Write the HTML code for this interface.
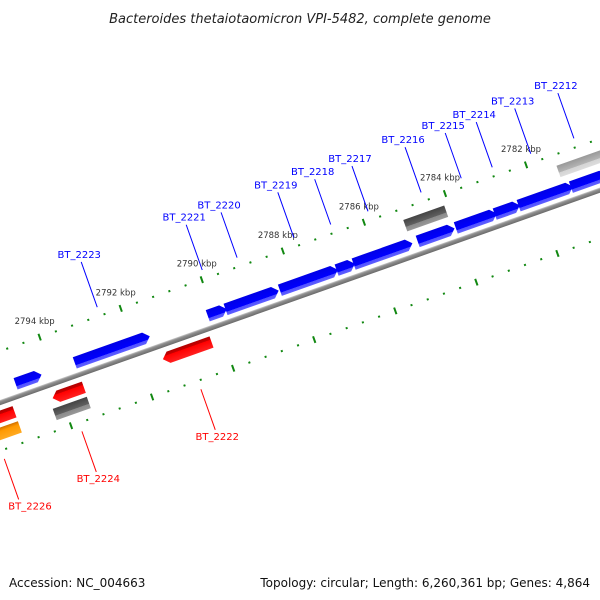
<!DOCTYPE html>
<html><head><meta charset="utf-8"><style>
html,body{margin:0;padding:0;background:#fff;width:600px;height:600px;overflow:hidden}
svg{display:block;font-family:"DejaVu Sans","Liberation Sans",sans-serif}
</style></head><body>
<svg id="map" width="600" height="600" viewBox="0 0 600 600">
<defs>
<linearGradient id="gF" x1="0" y1="0" x2="0" y2="1"><stop offset="0" stop-color="#0000e6"/><stop offset="0.7" stop-color="#0000ff"/><stop offset="0.72" stop-color="#5050ff"/><stop offset="1" stop-color="#6060ff"/></linearGradient>
<linearGradient id="gR" x1="0" y1="0" x2="0" y2="1"><stop offset="0" stop-color="#b00000"/><stop offset="0.28" stop-color="#c80000"/><stop offset="0.3" stop-color="#ff0000"/><stop offset="1" stop-color="#ff2020"/></linearGradient>
<linearGradient id="gD" x1="0" y1="0" x2="0" y2="1"><stop offset="0" stop-color="#444"/><stop offset="0.6" stop-color="#606060"/><stop offset="0.62" stop-color="#8a8a8a"/><stop offset="1" stop-color="#999"/></linearGradient>
<linearGradient id="gL" x1="0" y1="0" x2="0" y2="1"><stop offset="0" stop-color="#999"/><stop offset="0.6" stop-color="#b4b4b4"/><stop offset="0.62" stop-color="#d4d4d4"/><stop offset="1" stop-color="#ddd"/></linearGradient>
<linearGradient id="gO" x1="0" y1="0" x2="0" y2="1"><stop offset="0" stop-color="#d07000"/><stop offset="0.3" stop-color="#ff9900"/><stop offset="1" stop-color="#ffaa22"/></linearGradient>
<linearGradient id="gB" x1="0" y1="0" x2="0" y2="1"><stop offset="0" stop-color="#d0d0d0"/><stop offset="0.3" stop-color="#909090"/><stop offset="1" stop-color="#6a6a6a"/></linearGradient>
</defs>
<text x="300" y="23" text-anchor="middle" font-size="13" font-style="italic" fill="#222">Bacteroides thetaiotaomicron VPI-5482, complete genome</text>
<g id="rot" transform="translate(0,401) rotate(-19.5)"></g>
<g id="ann"></g>
<text x="9" y="587" font-size="12" fill="#111">Accession: NC_004663</text>
<text x="590" y="587" font-size="12" fill="#111" text-anchor="end">Topology: circular; Length: 6,260,361 bp; Genes: 4,864</text>
</svg>
<script>
// data (kbp)
const geneNames  = ["", "BT_2223","BT_2221","BT_2220","BT_2219","BT_2218","BT_2217","BT_2216","BT_2215","BT_2214","BT_2213","BT_2212","", "", "BT_2226","BT_2224","BT_2222","", ""];
const geneStarts = [2794.89,2793.43,2790.15,2789.71,2788.37,2786.97,2786.55,2784.97,2784.03,2783.07,2782.48,2781.19,2785.12,2781.34,2796.31,2794.19,2791.47,2796.46,2794.27];
const geneEnds   = [2794.25,2791.58,2789.68,2788.40,2786.94,2786.52,2785.10,2784.06,2783.02,2782.45,2781.14,2780.30,2784.11,2779.50,2795.13,2793.42,2790.27,2795.13,2793.43];
const geneStrand = [1,1,1,1,1,1,1,1,1,1,1,1,1,1,-1,-1,-1,-1,-1];
const geneLane   = [1,1,1,1,1,1,1,1,1,1,1,1,2,2,1,1,1,2,2];
const geneType   = ["cds","cds","cds","cds","cds","cds","cds","cds","cds","cds","cds","cds","dark","light","cds","cds","cds","orange","dark"];
const majorTicks = [2798,2796,2794,2792,2790,2788,2786,2784,2782,2780,2778];
const tickLabels = ["2798 kbp","2796 kbp","2794 kbp","2792 kbp","2790 kbp","2788 kbp","2786 kbp","2784 kbp","2782 kbp","2780 kbp","2778 kbp"];

const NS="http://www.w3.org/2000/svg";
const rot=document.getElementById('rot'), ann=document.getElementById('ann');
const U0=58.7, REF=2794, PX=43;
function uOf(k){return U0+(REF-k)*PX;}
const C=Math.cos(19.5*Math.PI/180), S=Math.sin(19.5*Math.PI/180);
function scr(u,v){return [u*C+v*S, 401-u*S+v*C];}
function mk(tag,attrs,parent){const e=document.createElementNS(NS,tag);for(const k in attrs)e.setAttribute(k,attrs[k]);parent.appendChild(e);return e;}

// backbone
let bb=mk('rect',{x:-100,y:-1,width:900,height:5,fill:'url(#gB)'},rot);



// ticks
const minorStep=0.4;
for(let ring of [-47,47]){
  for(let i=0;i<=50;i++){
    const k=2798-i*minorStep;
    const u=uOf(k);
    const isMajor=Math.abs(k/2-Math.round(k/2))<0.01;
    let t;
    if(isMajor){ t=mk('rect',{x:u-1,y:ring-3.5,width:2,height:7,fill:'#118811'},rot);
       }
    else { t=mk('rect',{x:u-1,y:ring-1,width:2,height:2,fill:'#118811'},rot);
       }
    
  }
}
majorTicks.forEach((k,i)=>{
  const [x,y]=scr(uOf(k),-47);
  if(x>575||x<10) return;
  const t=mk('text',{x:x-5,y:y-13,'text-anchor':'middle','font-size':8.5,fill:'#333'},ann);
  t.textContent=tickLabels[i];
  
  
});

// genes
const fills={cds1:'url(#gF)',cdsm:'url(#gR)',dark:'url(#gD)',light:'url(#gL)',orange:'url(#gO)'};
geneStarts.forEach((s,i)=>{
  const u1=Math.min(uOf(s),uOf(geneEnds[i])), u2=Math.max(uOf(s),uOf(geneEnds[i]));
  const st=geneStrand[i], ln=geneLane[i];
  let v0,v1;
  if(st>0){ if(ln===1){v0=-17;v1=-5;} else {v0=-36;v1=-24;} }
  else { if(ln===1){v0=9;v1=21;} else {v0=25;v1=37;} }
  const m=(v0+v1)/2, h=6;
  let pts;
  if(geneType[i]==='dark'||geneType[i]==='light') pts=[[u1,v0],[u2,v0],[u2,v1],[u1,v1]];
  else if(st>0) pts=[[u1,v0],[u2-h,v0],[u2,m],[u2-h,v1],[u1,v1]];
  else pts=[[u1+h,v0],[u2,v0],[u2,v1],[u1+h,v1],[u1,m]];
  const f=geneType[i]==='cds'?(st>0?fills.cds1:fills.cdsm):fills[geneType[i]];
  const p=mk('polygon',{points:pts.map(q=>q.join(',')).join(' '),fill:f},rot);
  
  
  if(geneNames[i]){
    const uc=(u1+u2)/2, col=st>0?'#0000ff':'#ff0000';
    const a=st>0?-56:56, b=st>0?-104:99;
    const [xa,ya]=scr(uc,a), [xb,yb]=scr(uc,b);
    const l=mk('line',{x1:xa,y1:ya,x2:xb,y2:yb,stroke:col,'stroke-width':1},ann);
    
    
    const tx=Math.max(st>0?xb-2:xb+2,30);
    const t=mk('text',{x:tx,y:st>0?yb-4:yb+10,'text-anchor':'middle','font-size':10,fill:col},ann);
    t.textContent=geneNames[i];
    
    
  }
});
</script>
</body></html>
